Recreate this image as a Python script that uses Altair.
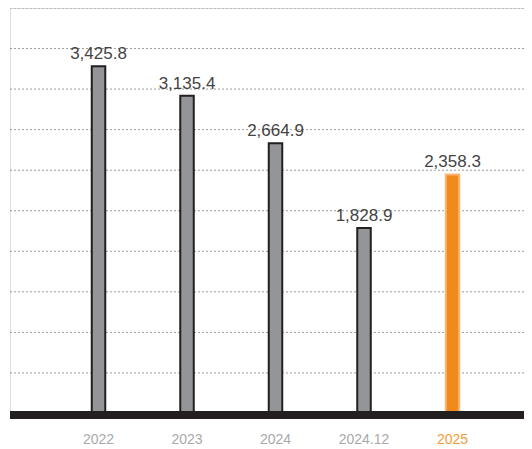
import altair as alt
import pandas as pd

years = ["2022", "2023", "2024", "2024.12", "2025"]
values = [3425.8, 3135.4, 2664.9, 1828.9, 2358.3]
highlight = ["base", "base", "base", "base", "hl"]
grid_values = [400, 800, 1200, 1600, 2000, 2400, 2800, 3200, 3600, 4000]

df = pd.DataFrame({"year": years, "value": values, "kind": highlight})
gdf = pd.DataFrame({"g": grid_values})

W, H = 514, 405.5
FONT = "Liberation Sans"
yscale = alt.Scale(domain=[0, 4000], nice=False)

x = alt.X("year:N", sort=years, title=None,
          scale=alt.Scale(paddingInner=0, paddingOuter=0.404, align=0.619),
          axis=alt.Axis(domain=False, ticks=False, grid=False, labelAngle=0, labelPadding=19,
                        labelFont=FONT, labelFontSize=14, labelFontWeight="normal",
                        labelColor={"condition": {"test": "datum.value == '2025'", "value": "#f39b3a"},
                                    "value": "#a7a9ac"}))
y = alt.Y("value:Q", title=None, scale=yscale, axis=None)

grid = alt.Chart(gdf).mark_rule(color="#9a9a9a", strokeDash=[2, 2], strokeWidth=1).encode(
    y=alt.Y("g:Q", scale=yscale, axis=None),
    x=alt.value(0), x2=alt.value(W),
)

base = alt.Chart(df)

bars = base.mark_bar(size=13.5, strokeWidth=2).encode(
    x=x, y=y,
    color=alt.Color("kind:N", scale=alt.Scale(domain=["base", "hl"], range=["#939598", "#f08a1d"]), legend=None),
    stroke=alt.Stroke("kind:N", scale=alt.Scale(domain=["base", "hl"], range=["#231f20", "#f7b877"]), legend=None),
)

labels = base.mark_text(baseline="alphabetic", dy=-7, font=FONT, fontSize=17,
                        color="#444444").encode(
    x=x, y=y,
    text=alt.Text("value:Q", format=",.1f"),
)

baseline = alt.Chart(df).mark_rule(color="#231f20", strokeWidth=8).encode(
    x=alt.value(0), x2=alt.value(W), y=alt.value(407)
)

chart = alt.layer(grid, bars, labels, baseline).properties(
    width=W, height=H,
    autosize=alt.AutoSizeParams(type="none"),
    padding={"left": 2, "top": 0, "right": 0, "bottom": 34},
).configure_view(
    strokeWidth=0, stroke="transparent"
).configure_axis(
    domain=False, ticks=False
).configure(background="#ffffff")

chart.save("out.html", embed_options={"renderer": "svg", "actions": False})
